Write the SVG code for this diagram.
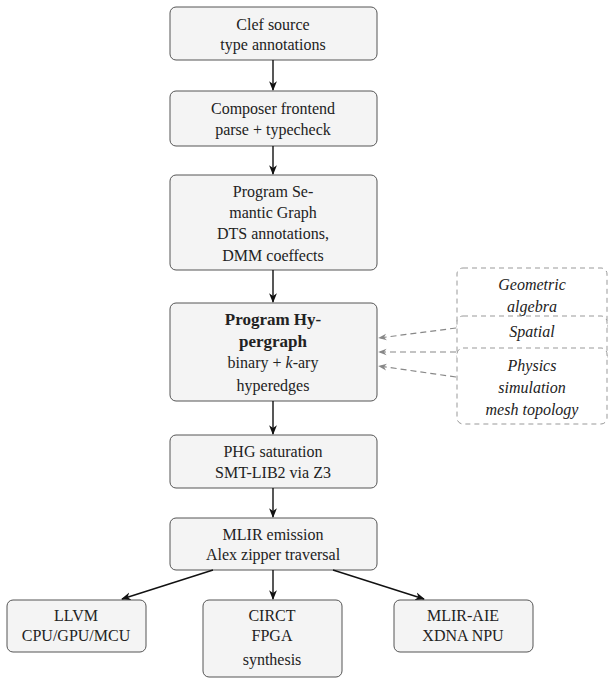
<svg xmlns="http://www.w3.org/2000/svg" width="614" height="683" viewBox="0 0 614 683">
<style>
.n{fill:#f4f4f4;stroke:#555;stroke-width:1}
.d{fill:#fff;stroke:#999;stroke-width:1;stroke-dasharray:5,4}
text{font-family:"Liberation Serif",serif;font-size:16px;fill:#222;text-anchor:middle}
.i{font-style:italic}
.b{font-weight:bold;font-size:17px}
.c line{stroke:#111;stroke-width:1.4}
.g line{stroke:#888;stroke-width:1.2;stroke-dasharray:6,4}
</style>
<defs>
<marker id="a" viewBox="0 0 10 10" refX="9" refY="5" markerWidth="7" markerHeight="7" orient="auto"><path d="M0,1 L10,5 L0,9 L3,5z" fill="#111"/></marker>
<marker id="ag" viewBox="0 0 10 10" refX="9" refY="5" markerWidth="7" markerHeight="7" orient="auto"><path d="M0,1 L10,5 L0,9 L3,5z" fill="#888"/></marker>
</defs>
<g id="n1"><rect class="n" x="170" y="7" width="207" height="53" rx="6"/><text x="273" y="30">Clef source</text><text x="273" y="50">type annotations</text></g>
<g id="n2"><rect class="n" x="170" y="91" width="207" height="55" rx="6"/><text x="273" y="114">Composer frontend</text><text x="273" y="135">parse + typecheck</text></g>
<g id="n3"><rect class="n" x="170" y="175" width="207" height="95" rx="6"/><text x="273" y="197">Program Se-</text><text x="273" y="218">mantic Graph</text><text x="273" y="239">DTS annotations,</text><text x="273" y="261">DMM coeffects</text></g>
<g id="n4"><rect class="n" x="170" y="303" width="207" height="98" rx="6"/><text class="b" x="273" y="325">Program Hy-</text><text class="b" x="273" y="347">pergraph</text><text x="273" y="368">binary + <tspan class="i">k</tspan>-ary</text><text x="273" y="391">hyperedges</text></g>
<g id="n5"><rect class="n" x="170" y="435" width="207" height="53" rx="6"/><text x="273" y="457">PHG saturation</text><text x="273" y="478">SMT-LIB2 via Z3</text></g>
<g id="n6"><rect class="n" x="170" y="518" width="207" height="52" rx="6"/><text x="273" y="540">MLIR emission</text><text x="273" y="560">Alex zipper traversal</text></g>
<g id="n7"><rect class="n" x="7" y="600" width="139" height="52" rx="6"/><text x="76" y="621">LLVM</text><text x="76" y="641">CPU/GPU/MCU</text></g>
<g id="n8"><rect class="n" x="203" y="600" width="139" height="77" rx="6"/><text x="272" y="621">CIRCT</text><text x="272" y="641">FPGA</text><text x="272" y="665">synthesis</text></g>
<g id="n9"><rect class="n" x="394" y="600" width="139" height="52" rx="6"/><text x="463" y="621">MLIR-AIE</text><text x="463" y="641">XDNA NPU</text></g>
<g id="e1"><rect class="d" x="457" y="268" width="150" height="64" rx="6"/><text class="i" x="532" y="290">Geometric</text><text class="i" x="532" y="312">algebra</text></g>
<g id="e2"><rect class="d" x="457" y="316" width="150" height="46" rx="6"/><text class="i" x="532" y="337">Spatial</text></g>
<g id="e3"><rect class="d" x="457" y="348" width="150" height="76" rx="6"/><text class="i" x="532" y="371">Physics</text><text class="i" x="532" y="393">simulation</text><text class="i" x="532" y="415">mesh topology</text></g>
<g class="c">
<line x1="273" y1="60" x2="273" y2="90" marker-end="url(#a)"/>
<line x1="273" y1="146" x2="273" y2="174" marker-end="url(#a)"/>
<line x1="273" y1="270" x2="273" y2="302" marker-end="url(#a)"/>
<line x1="273" y1="401" x2="273" y2="434" marker-end="url(#a)"/>
<line x1="273" y1="488" x2="273" y2="517" marker-end="url(#a)"/>
<line x1="213" y1="570" x2="122" y2="599" marker-end="url(#a)"/>
<line x1="273" y1="570" x2="273" y2="599" marker-end="url(#a)"/>
<line x1="333" y1="570" x2="424" y2="599" marker-end="url(#a)"/>
</g>
<g class="g">
<line x1="456" y1="328" x2="379" y2="338" marker-end="url(#ag)"/>
<line x1="456" y1="352" x2="379" y2="352" marker-end="url(#ag)"/>
<line x1="456" y1="377" x2="379" y2="366" marker-end="url(#ag)"/>
</g>
</svg>
